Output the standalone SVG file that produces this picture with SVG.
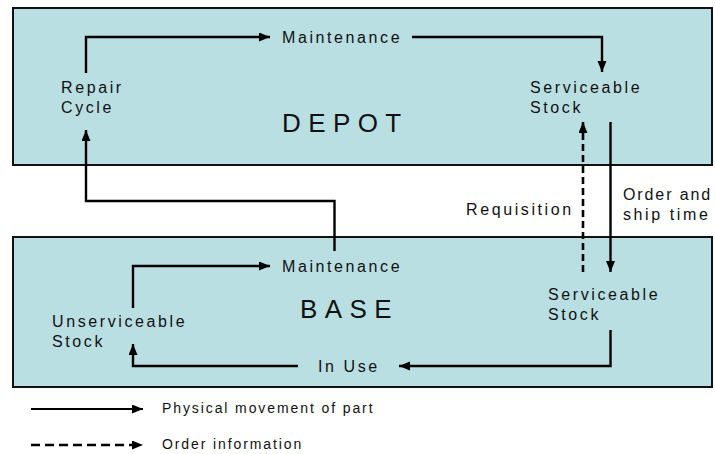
<svg xmlns="http://www.w3.org/2000/svg" width="715" height="454" viewBox="0 0 715 454">
<defs>
<style>
.box{fill:#b9dfe2;stroke:#111;stroke-width:2}
.t{font-family:"Liberation Sans",Arial,sans-serif;font-size:16px;letter-spacing:2.6px;fill:#111}
.big{font-family:"Liberation Sans",Arial,sans-serif;font-size:26px;letter-spacing:7.4px;fill:#111}
.lg{font-family:"Liberation Sans",Arial,sans-serif;font-size:14px;letter-spacing:1.9px;fill:#111}
.c{fill:none;stroke:#000;stroke-width:2.4}
.d{fill:none;stroke:#000;stroke-width:2.6;stroke-dasharray:7 4}
.c2{fill:none;stroke:#000;stroke-width:2.2}
.d2{fill:none;stroke:#000;stroke-width:2.4;stroke-dasharray:9 5}
</style>
<marker id="ah" markerUnits="userSpaceOnUse" markerWidth="12" markerHeight="10" refX="11" refY="4.5" orient="auto">
<path d="M0,0 L11,4.5 L0,9 z" fill="#000"/>
</marker>
</defs>
<rect width="715" height="454" fill="#fff"/>
<g id="depot">
<rect class="box" x="13" y="8" width="699" height="157"/>
<text class="big" x="282" y="132">DEPOT</text>
</g>
<g id="base">
<rect class="box" x="13" y="237" width="699" height="150"/>
<text class="big" x="300" y="318">BASE</text>
</g>
<g id="depot-repair-cycle"><text class="t" x="61" y="93">Repair</text><text class="t" x="61" y="113">Cycle</text></g>
<g id="depot-maintenance"><text class="t" x="282" y="43">Maintenance</text></g>
<g id="depot-serviceable-stock"><text class="t" x="530" y="93">Serviceable</text><text class="t" x="530" y="113">Stock</text></g>
<g id="base-maintenance"><text class="t" x="282" y="272">Maintenance</text></g>
<g id="base-unserviceable-stock"><text class="t" x="52" y="327">Unserviceable</text><text class="t" x="52" y="347">Stock</text></g>
<g id="base-in-use"><text class="t" x="318" y="372">In Use</text></g>
<g id="base-serviceable-stock"><text class="t" x="548" y="300">Serviceable</text><text class="t" x="548" y="320">Stock</text></g>
<g id="label-requisition"><text class="t" x="466" y="215">Requisition</text></g>
<g id="label-order-ship"><text class="t" x="623" y="200" style="letter-spacing:1.9px">Order and</text><text class="t" x="623" y="220">ship time</text></g>
<g id="connectors">
<path class="c" d="M86,73 V37 H270" marker-end="url(#ah)"/>
<path class="c" d="M412,37 H602 V72" marker-end="url(#ah)"/>
<path class="c" d="M334.5,251 V201 H86 V130" marker-end="url(#ah)"/>
<path class="c" d="M610.5,122 V272" marker-end="url(#ah)"/>
<path class="d" d="M583,272 V122" marker-end="url(#ah)"/>
<path class="c" d="M133,308 V266 H270" marker-end="url(#ah)"/>
<path class="c" d="M298,366 H133 V344" marker-end="url(#ah)"/>
<path class="c" d="M610.5,330 V366 H399" marker-end="url(#ah)"/>
</g>
<g id="legend">
<path class="c2" d="M31,409 H143" marker-end="url(#ah)"/>
<text class="lg" x="162" y="413">Physical movement of part</text>
<path class="d2" d="M31,445 H143" marker-end="url(#ah)"/>
<text class="lg" x="162" y="449">Order information</text>
</g>
</svg>
